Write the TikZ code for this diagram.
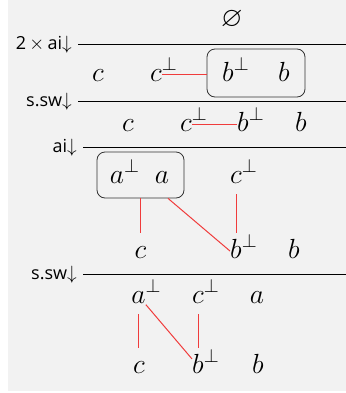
\documentclass[tikz,border=0pt]{standalone}
\usepackage{amssymb}
\usepackage{mathtools}
\usepackage{fontspec}
\newfontfamily\labfont{Open Sans}
\usetikzlibrary{calc}
\definecolor{bggray}{HTML}{F2F2F2}
\definecolor{linkred}{HTML}{F03C3C}
\newcommand\lperp[1]{#1\mathrlap{^{\perp}}}
\newcommand\labtimes{$\mkern3mu\times\mkern3mu$}
\tikzset{
  lt/.style={inner sep=0pt, text height=18.75pt, text depth=8.25pt, font=\huge, anchor=base},
  lab/.style={inner sep=0pt, anchor=base east, font=\labfont\fontsize{13.5}{16}\selectfont},
  rule/.style={draw=black, line width=0.6pt},
  link/.style={draw=linkred, line width=0.75pt},
  grp/.style={draw=black!80, line width=0.6pt, rounded corners=6pt, inner sep=0pt}
}
\begin{document}
\begin{tikzpicture}[x=0.75pt,y=-0.75pt]
\useasboundingbox (0,0) rectangle (346,393);
\fill[bggray] (8,0) rectangle (346,391);

% row 1
\node[font=\huge, inner sep=0pt] (empty) at (232,20) {$\varnothing$};
% rule 1
\node[lab] (l1) at (72,49) {2\labtimes ai$\downarrow$};
\coordinate (r1s) at (78,44); \coordinate (r1e) at (346,44);
\draw[rule] (r1s) -- (r1e);

% row 2
\node[grp, minimum width=73.5pt, minimum height=36pt] (box2) at (256,73) {};
\node[lt] (c2a) at (98,81) {$c$};
\node[lt] (c2) at (156,81) {$\lperp{c}$};
\node[lt] (b2) at (228,81) {$\lperp{b}$};
\node[lt] (bb2) at (284,81) {$b$};
\draw[link] (c2.east) -- (c2.east -| box2.west);
% rule 2
\node[lab] (l2) at (72,106) {s.sw$\downarrow$};
\coordinate (r2s) at (78,101); \coordinate (r2e) at (346,101);
\draw[rule] (r2s) -- (r2e);

% row 3
\node[lt] (c3a) at (128,131) {$c$};
\node[lt] (c3) at (186,131) {$\lperp{c}$};
\node[lt] (b3) at (243,131) {$\lperp{b}$};
\node[lt] (bb3) at (301,131) {$b$};
\draw[link] (c3.east) -- (c3.east -| b3.west);
% rule 3
\node[lab] (l3) at (77,152) {ai$\downarrow$};
\coordinate (r3s) at (83,147); \coordinate (r3e) at (346,147);
\draw[rule] (r3s) -- (r3e);

% row 4
\node[grp, minimum width=65.25pt, minimum height=34.5pt] (box4) at (140.5,175) {};
\node[lt] (a4) at (117,183) {$\lperp{a}$};
\node[lt] (aa4) at (162,183) {$a$};
\node[lt] (c4) at (236,183) {$\lperp{c}$};

% row 5
\node[lt] (c5) at (140.5,258) {$c$};
\node[lt] (b5) at (236,258) {$\lperp{b}$};
\node[lt] (bb5) at (294,258) {$b$};
\draw[link] (c5.north) -- (c5.north |- box4.south);
\draw[link] (box4) -- (b5.west);
\draw[link] (c4) -- (b5);

% rule 4
\node[lab] (l4) at (77,279) {s.sw$\downarrow$};
\coordinate (r4s) at (83,274); \coordinate (r4e) at (346,274);
\draw[rule] (r4s) -- (r4e);

% row 6
\node[lt] (a6) at (138.5,303) {$\lperp{a}$};
\node[lt] (c6) at (198,303) {$\lperp{c}$};
\node[lt] (aa6) at (257,303) {$a$};

% row 7
\node[lt] (c7) at (139,373) {$c$};
\node[lt] (b7) at (198,373) {$\lperp{b}$};
\node[lt] (bb7) at (258,373) {$b$};
\draw[link] (a6.south) -- (a6.south |- c7.north);
\draw[link] (a6) -- (b7);
\draw[link] (c6) -- (b7);
\end{tikzpicture}
\end{document}
